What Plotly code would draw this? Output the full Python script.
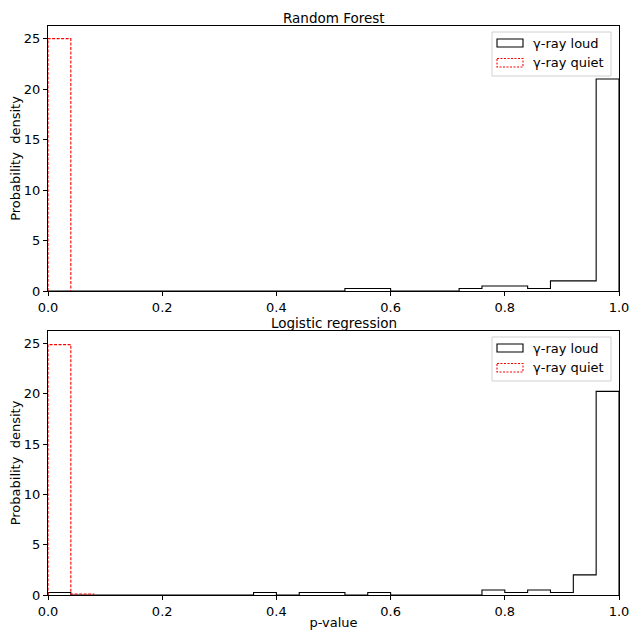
import numpy as np
import plotly.graph_objects as go
from plotly.subplots import make_subplots

# ---- data (probability densities per bin, 25 bins of width 0.04 on [0,1]) ----
bin_edges = [round(i * 0.04, 2) for i in range(26)]

rf_loud = [0, 0, 0, 0, 0, 0, 0, 0, 0, 0, 0, 0, 0, 0.25, 0.25, 0, 0, 0, 0.25, 0.5, 0.5, 0.25, 1.0, 1.0, 21.0]
rf_quiet = [25.0]

lr_loud = [0.25, 0, 0, 0, 0, 0, 0, 0, 0, 0.25, 0, 0.25, 0.25, 0, 0.25, 0, 0, 0, 0, 0.5, 0.25, 0.5, 0.25, 2.0, 20.25]
lr_quiet = [24.9, 0.1]

titles = ["Random Forest", "Logistic regression"]
legend_labels = ["γ-ray loud", "γ-ray quiet"]
x_ticks = [0.0, 0.2, 0.4, 0.6, 0.8, 1.0]
y_ticks = [0, 5, 10, 15, 20, 25]

FONT = "DejaVu Sans"
W, H = 629, 630
ML, MR, MT, MB = 48, 10, 26, 35


def step_xy(dens):
    edges = bin_edges[:len(dens) + 1]
    xs, ys = [edges[0]], [0]
    for i, d in enumerate(dens):
        xs += [edges[i], edges[i + 1]]
        ys += [d, d]
    xs.append(edges[len(dens)])
    ys.append(0)
    return xs, ys


fig = make_subplots(rows=2, cols=1, vertical_spacing=0.0)
plot_h = H - MT - MB
top_dom = [(H - MB - 291) / plot_h, 1.0]
bot_dom = [0.0, (H - MB - 331) / plot_h]

panels = [(rf_loud, rf_quiet), (lr_loud, lr_quiet)]
for r, (loud, quiet) in enumerate(panels, start=1):
    xs, ys = step_xy(loud)
    fig.add_trace(go.Scatter(x=xs, y=ys, mode="lines", line=dict(color="black", width=1.1),
                             showlegend=False, hoverinfo="skip"), row=r, col=1)
    xs, ys = step_xy(quiet)
    fig.add_trace(go.Scatter(x=xs, y=ys, mode="lines", line=dict(color="red", width=1.1, dash="3px,1.5px"),
                             showlegend=False, hoverinfo="skip"), row=r, col=1)

axis_common = dict(showline=True, linecolor="black", linewidth=1.1, mirror=True, ticks="outside",
                   ticklen=4, tickwidth=1.1, tickcolor="black", showgrid=False, zeroline=False,
                   automargin=False, ticklabeloverflow="allow",
                   tickfont=dict(family=FONT, size=13, color="black"))
for r, dom in zip([1, 2], [top_dom, bot_dom]):
    fig.update_xaxes(range=[0, 1], tickvals=x_ticks, ticktext=[f"{v:.1f}" for v in x_ticks],
                     **axis_common, row=r, col=1)
    fig.update_yaxes(range=[0, 26.25], tickvals=y_ticks, domain=dom, **axis_common,
                     title=dict(text="Probability\u00a0\u00a0density", font=dict(family=FONT, size=13, color="black"),
                                standoff=0), row=r, col=1)
fig.update_xaxes(title=dict(text="p-value", font=dict(family=FONT, size=13, color="black"), standoff=2),
                 row=2, col=1)

annotations = []
shapes = []
axes_px = [(26, 291, "x domain", "y domain"), (331, 595, "x2 domain", "y2 domain")]
ax_w = W - ML - MR


def dx(px):
    return (px - ML) / ax_w


for (top, bot, xr, yr), title in zip(axes_px, titles):
    h = bot - top

    def dy(py):
        return 1 - (py - top) / h

    annotations.append(dict(text=title, xref=xr, yref=yr, x=0.5, y=1, yanchor="bottom", yshift=-1,
                            showarrow=False, borderpad=0,
                            font=dict(family=FONT, size=13.5, color="black")))
    shapes.append(dict(type="rect", xref=xr, yref=yr, x0=dx(492), x1=dx(611), y0=dy(top + 6), y1=dy(top + 50),
                       line=dict(color="#d0d0d0", width=1), fillcolor="rgba(255,255,255,0.8)", layer="above"))
    shapes.append(dict(type="rect", xref=xr, yref=yr, x0=dx(497), x1=dx(523), y0=dy(top + 13), y1=dy(top + 21),
                       line=dict(color="black", width=1.1), fillcolor="rgba(0,0,0,0)", layer="above"))
    shapes.append(dict(type="rect", xref=xr, yref=yr, x0=dx(497), x1=dx(523), y0=dy(top + 32.5), y1=dy(top + 41),
                       line=dict(color="red", width=1.1, dash="2px,1.5px"), fillcolor="rgba(0,0,0,0)",
                       layer="above"))
    for lbl, cy in zip(legend_labels, [top + 17.3, top + 36.7]):
        annotations.append(dict(text=lbl, xref=xr, yref=yr, x=dx(531), y=dy(cy), xanchor="left",
                                yanchor="middle", showarrow=False,
                                font=dict(family=FONT, size=13, color="black")))

fig.update_layout(width=W, height=H, margin=dict(l=ML, r=MR, t=MT, b=MB),
                  plot_bgcolor="white", paper_bgcolor="white", showlegend=False,
                  annotations=annotations, shapes=shapes, font=dict(family=FONT))
fig.write_html("out.html")
